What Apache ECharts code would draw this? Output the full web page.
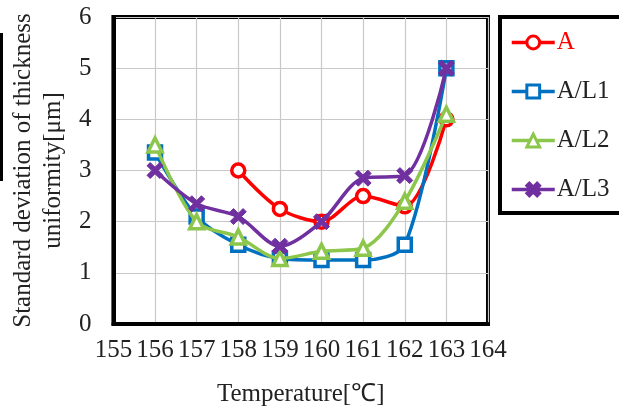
<!DOCTYPE html>
<html>
<head>
<meta charset="utf-8">
<script src="https://cdn.jsdelivr.net/npm/echarts@6/dist/echarts.min.js"></script>
<style>html,body{margin:0;padding:0;background:#fff}#c{width:619px;height:412px}</style>
</head>
<body>
<div id="c"></div>
<script>
const temps = [156, 157, 158, 159, 160, 161, 162, 163];
const seriesA  = [null, null, 3.0, 2.25, 2.0, 2.5, 2.3, 4.0];
const seriesL1 = [3.35, 2.1, 1.55, 1.28, 1.25, 1.25, 1.55, 5.0];
const seriesL2 = [3.5, 2.0, 1.7, 1.28, 1.42, 1.48, 2.4, 4.1];
const seriesL3 = [3.0, 2.35, 2.1, 1.52, 2.0, 2.85, 2.9, 5.0];
const names = ['A', 'A/L1', 'A/L2', 'A/L3'];
const colors = ['#ff0000', '#0070c0', '#8cc64a', '#7030a0'];
const xTicks = [155, 164];
const yTicks = [0, 6];

const F = "'Liberation Serif','Times New Roman',serif";
const xPath = 'path://M0,2 L2,0 L5,3 L8,0 L10,2 L7,5 L10,8 L8,10 L5,7 L2,10 L0,8 L3,5 Z';
const symbols = ['circle', 'rect', 'triangle', xPath];
const sizes = [13, 13, 14, 16];
const all = [seriesA, seriesL1, seriesL2, seriesL3];

const chart = echarts.init(document.getElementById('c'));
chart.setOption({
  animation: false,
  backgroundColor: '#fff',
  grid: { left: 112, top: 17, right: 131, bottom: 84, show: true, borderColor: '#000', borderWidth: 4, containLabel: false },
  xAxis: {
    type: 'value', min: xTicks[0], max: xTicks[1], interval: 1,
    name: 'Temperature[℃]', nameLocation: 'middle', nameGap: 58,
    nameTextStyle: { fontFamily: F, fontSize: 25, color: '#222' },
    axisLine: { show: true, lineStyle: { color: '#000', width: 4 } },
    axisTick: { show: false },
    axisLabel: { fontFamily: F, fontSize: 25, color: '#222', margin: 14 },
    splitLine: { show: true, lineStyle: { color: '#c8c8c8', width: 1.2 } }
  },
  yAxis: {
    type: 'value', min: yTicks[0], max: yTicks[1], interval: 1,
    name: 'Standard deviation of thickness\nuniformity[μm]', nameLocation: 'middle', nameGap: 44, nameRotate: 90,
    nameTextStyle: { fontFamily: F, fontSize: 25, color: '#222', lineHeight: 30 },
    axisLine: { show: true, lineStyle: { color: '#000', width: 4 } },
    axisTick: { show: false },
    axisLabel: { fontFamily: F, fontSize: 25, color: '#222', margin: 22 },
    splitLine: { show: true, lineStyle: { color: '#c8c8c8', width: 1.2 } }
  },
  legend: {
    orient: 'vertical', left: 510, top: 30, padding: 0,
    itemWidth: 43, itemHeight: 16, itemGap: 24,
    lineStyle: { width: 3.5 },
    itemStyle: { borderWidth: 3 },
    textStyle: { fontFamily: F, fontSize: 25, color: '#222', lineHeight: 25, padding: [0, 0, 0, -3] },
    data: names.map((n, i) => ({ name: n, textStyle: { color: i === 0 ? '#ff0000' : '#222' } }))
  },
  graphic: [
    { type: 'rect', shape: { x: 500, y: 17, width: 140, height: 196 }, style: { fill: 'none', stroke: '#000', lineWidth: 4 }, z: -1 },
    { type: 'line', shape: { x1: 1.5, y1: 33, x2: 1.5, y2: 181 }, style: { stroke: '#000', lineWidth: 3 } }
  ],
  series: all.map((vals, i) => ({
    name: names[i], type: 'line', smooth: 0.3,
    data: temps.map((t, j) => vals[j] == null ? null : [t, vals[j]]).filter(d => d),
    symbol: symbols[i], symbolSize: sizes[i],
    lineStyle: { color: colors[i], width: 3.5 },
    itemStyle: { color: i === 3 ? colors[i] : '#fff', borderColor: colors[i], borderWidth: i === 3 ? 1 : 3.5 },
    z: 2 + i
  }))
});
</script>
</body>
</html>
